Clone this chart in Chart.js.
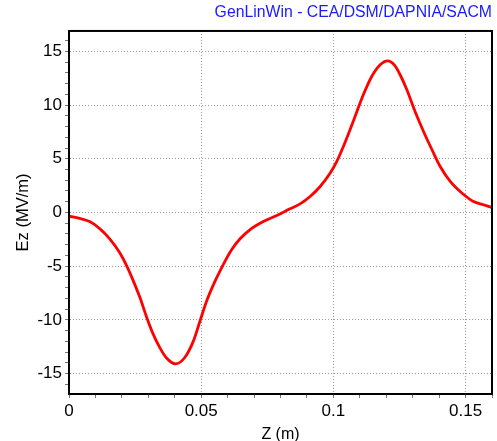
<!DOCTYPE html>
<html>
<head>
<meta charset="utf-8">
<script src="https://cdn.jsdelivr.net/npm/chart.js@4/dist/chart.umd.min.js"></script>
<style>
  html, body { margin: 0; padding: 0; background: #fff; }
</style>
</head>
<body>
<canvas id="chart" width="497" height="441"></canvas>
<script>
// values
var zValues = [0, 0.004, 0.0078, 0.0116, 0.0154, 0.0192, 0.0217, 0.0242, 0.0268, 0.0293, 0.0318, 0.0344, 0.0369, 0.0403,
  0.0438, 0.047, 0.0495, 0.052, 0.0552, 0.0583, 0.0615, 0.0647, 0.0684, 0.0735, 0.0786, 0.0836, 0.0874,
  0.0912, 0.095, 0.0988, 0.1013, 0.1038, 0.1063, 0.1089, 0.1114, 0.1145, 0.1177, 0.1205, 0.1232, 0.1253,
  0.1278, 0.1309, 0.1341, 0.1373, 0.1404, 0.1442, 0.1486, 0.153, 0.1568, 0.16]
var ezValues = [-0.35, -0.55, -0.85, -1.5, -2.45, -3.75, -4.9, -6.3, -7.9, -9.7, -11.3, -12.6, -13.55, -14.1,
  -13.5, -12.0, -10.15, -8.29, -6.42, -4.87, -3.47, -2.45, -1.61, -0.84, -0.28, 0.34, 0.8,
  1.49, 2.42, 3.67, 4.75, 6.15, 7.7, 9.4, 11.0, 12.66, 13.75, 14.12, 13.7, 12.8,
  11.42, 9.4, 7.54, 5.84, 4.28, 2.89, 1.81, 1.02, 0.72, 0.47]
var xTickLabels = [0, 0.05, 0.1, 0.15]
var yTickLabels = [-15, -10, -5, 0, 5, 10, 15]

var points = []
for (var i = 0; i < zValues.length; i++) {
  points.push({x: zValues[i], y: ezValues[i]})
}

function isIn(list, v) {
  for (var i = 0; i < list.length; i++) {
    if (Math.abs(list[i] - v) < 1e-6) return true
  }
  return false
}

var frame = {
  id: 'frame',
  afterDraw: function(chart) {
    var a = chart.chartArea
    var ctx = chart.ctx
    ctx.save()
    ctx.strokeStyle = '#000'
    ctx.lineWidth = 2
    ctx.strokeRect(a.left, a.top, a.right - a.left, a.bottom - a.top)
    ctx.restore()
  }
}

var font = 'Liberation Sans, Arial, sans-serif'

var ctx = document.getElementById("chart")
var chart = new Chart(ctx, {
  type: 'scatter',
  data: {
    datasets: [{
      data: points,
      showLine: true,
      borderColor: '#ff0000',
      borderWidth: 2.8,
      pointRadius: 0,
      cubicInterpolationMode: 'monotone'
    }]
  },
  plugins: [frame],
  options: {
    responsive: false,
    animation: false,
    devicePixelRatio: 1,
    layout: { padding: { right: 5 } },
    plugins: {
      legend: { display: false },
      tooltip: { enabled: false },
      title: {
        display: true,
        text: 'GenLinWin - CEA/DSM/DAPNIA/SACM',
        align: 'end',
        color: '#1a1aff',
        font: { family: font, size: 15.8, weight: 'normal' },
        padding: { top: 3, bottom: 9 }
      }
    },
    scales: {
      x: {
        type: 'linear',
        min: 0,
        max: 0.16,
        afterFit: function(s) { s.height = 47 },
        ticks: {
          stepSize: 0.01,
          autoSkip: false,
          maxRotation: 0,
          includeBounds: false,
          padding: 3,
          color: '#000',
          font: { family: font, size: 17 },
          callback: function(v) {
            return isIn(xTickLabels, v) ? String(parseFloat(v.toFixed(3))) : ''
          }
        },
        grid: {
          tickLength: 4,
          tickColor: '#777',
          color: function(c) {
            return c.tick && isIn(xTickLabels, c.tick.value) ? '#999' : 'rgba(0,0,0,0)'
          }
        },
        border: { color: '#000', width: 2, dash: [1, 2] },
        title: {
          display: true,
          text: 'Z (m)',
          color: '#000',
          font: { family: font, size: 16 },
          padding: { top: 0, bottom: -3 }
        }
      },
      y: {
        type: 'linear',
        min: -16.9,
        max: 16.9,
        afterFit: function(s) { s.width = 69 },
        ticks: {
          stepSize: 1,
          autoSkip: false,
          includeBounds: false,
          padding: 3,
          color: '#000',
          font: { family: font, size: 17 },
          callback: function(v) {
            return isIn(yTickLabels, v) ? String(v) : ''
          }
        },
        grid: {
          tickLength: 4,
          tickColor: '#777',
          color: function(c) {
            return c.tick && isIn(yTickLabels, c.tick.value) ? '#999' : 'rgba(0,0,0,0)'
          }
        },
        border: { color: '#000', width: 2, dash: [1, 2] },
        title: {
          display: true,
          text: 'Ez (MV/m)',
          color: '#000',
          font: { family: font, size: 16.5 },
          padding: { top: 14, bottom: 0 }
        }
      }
    }
  }
})
</script>
</body>
</html>
